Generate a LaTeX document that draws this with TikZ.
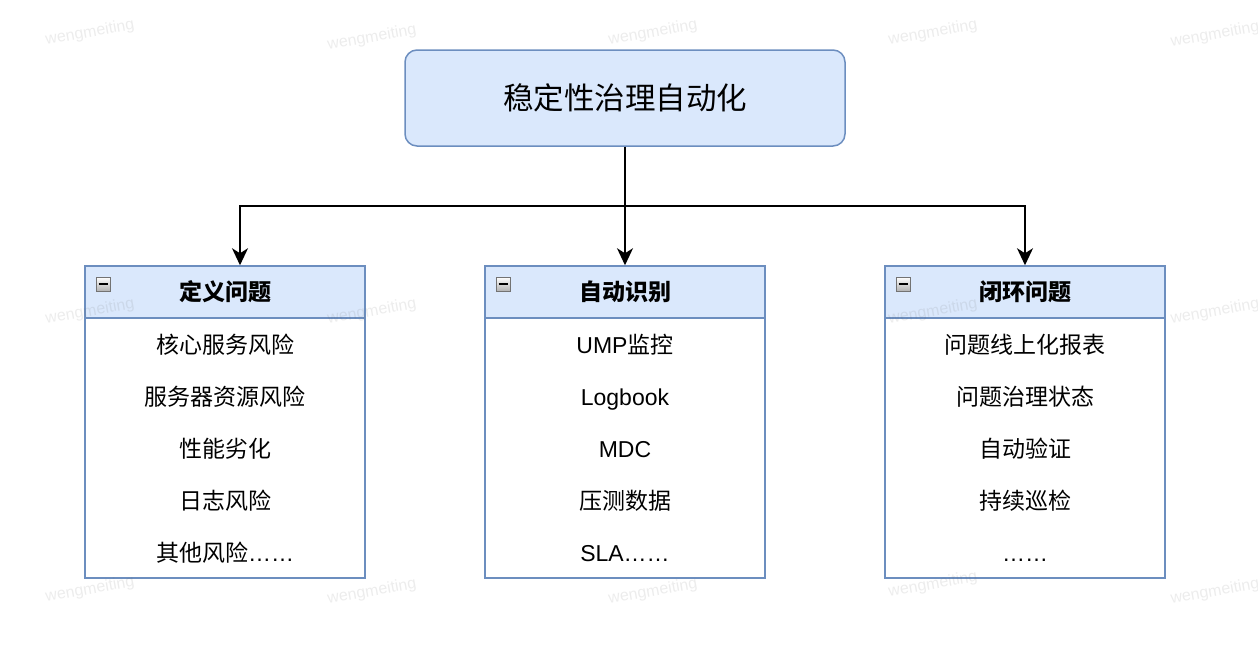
\documentclass[tikz,border=0pt]{standalone}
\usepackage{fontspec}
\setmainfont{Noto Sans CJK SC}
\newfontfamily\lat{Liberation Sans}
\usetikzlibrary{arrows.meta}
\definecolor{bfill}{HTML}{DAE8FC}
\definecolor{bdraw}{HTML}{6C8EBF}
\begin{document}
\begin{tikzpicture}[x=1pt,y=-1pt,
  root/.style={draw=bdraw, fill=bfill, line width=1.5pt, rounded corners=12pt,
    minimum width=440pt, minimum height=96pt, inner sep=0pt,
    font=\fontsize{30.5}{32}\selectfont},
  head/.style={draw=bdraw, fill=bfill, line width=1.5pt,
    minimum width=280pt, minimum height=52pt, inner sep=0pt,
    font=\fontsize{23}{24}\selectfont\bfseries},
  bodybox/.style={draw=bdraw, fill=white, line width=1.5pt,
    minimum width=280pt, minimum height=260pt, inner sep=0pt},
  item/.style={inner sep=0pt, text height=18pt, text depth=2pt,
    font=\fontsize{23}{24}\selectfont},
  icon/.style={draw=black!55, top color=white, bottom color=black!30,
    line width=0.8pt, minimum size=14pt, inner sep=0pt},
  arr/.style={line width=1.5pt, -{Stealth[length=17pt,width=16pt,inset=5pt]}},
  wm/.style={text=black!60, opacity=0.12, rotate=10, inner sep=0pt,
    font=\lat\fontsize{16}{17}\selectfont}
]
\useasboundingbox (0,0) rectangle (1258,648);

\node[root] (root) at (625,98) {稳定性治理自动化};

% left box
\node[bodybox] (b1) at (225,448) {};
\node[head] (h1) at (225,292) {定义问题};
\node[icon] (i1) at (103,284) {};
\draw[line width=1.2pt] ([xshift=-4.5pt]i1.center) -- ([xshift=4.5pt]i1.center);
\node[item] (l1) at (225,345) {核心服务风险};
\node[item] (l2) at (225,397) {服务器资源风险};
\node[item] (l3) at (225,449) {性能劣化};
\node[item] (l4) at (225,501) {日志风险};
\node[item] (l5) at (225,553) {其他风险{\lat ……}};

% middle box
\node[bodybox] (b2) at (625,448) {};
\node[head] (h2) at (625,292) {自动识别};
\node[icon] (i2) at (503,284) {};
\draw[line width=1.2pt] ([xshift=-4.5pt]i2.center) -- ([xshift=4.5pt]i2.center);
\node[item] (m1) at (625,345) {{\lat UMP}监控};
\node[item] (m2) at (625,397) {\lat Logbook};
\node[item] (m3) at (625,449) {\lat MDC};
\node[item] (m4) at (625,501) {压测数据};
\node[item] (m5) at (625,553) {\lat SLA……};

% right box
\node[bodybox] (b3) at (1025,448) {};
\node[head] (h3) at (1025,292) {闭环问题};
\node[icon] (i3) at (903,284) {};
\draw[line width=1.2pt] ([xshift=-4.5pt]i3.center) -- ([xshift=4.5pt]i3.center);
\node[item] (r1) at (1025,345) {问题线上化报表};
\node[item] (r2) at (1025,397) {问题治理状态};
\node[item] (r3) at (1025,449) {自动验证};
\node[item] (r4) at (1025,501) {持续巡检};
\node[item] (r5) at (1025,553) {\lat ……};

% connectors
\coordinate (j) at (625,206);
\draw[arr] (root.south) -- (j) -| ([xshift=15pt]h1.north);
\draw[arr] (root.south) -- (h2.north);
\draw[arr] (root.south) -- (j) -| (h3.north);

% watermarks
\foreach \x/\y [count=\k] in {90/33,372/38,653/33,933/33,1215/35,
  90/312,372/312,933/312,1215/312,
  90/590,372/592,653/592,933/585,1215/592}
  \node[wm] (wm\k) at (\x,\y) {wengmeiting};
\end{tikzpicture}
\end{document}
